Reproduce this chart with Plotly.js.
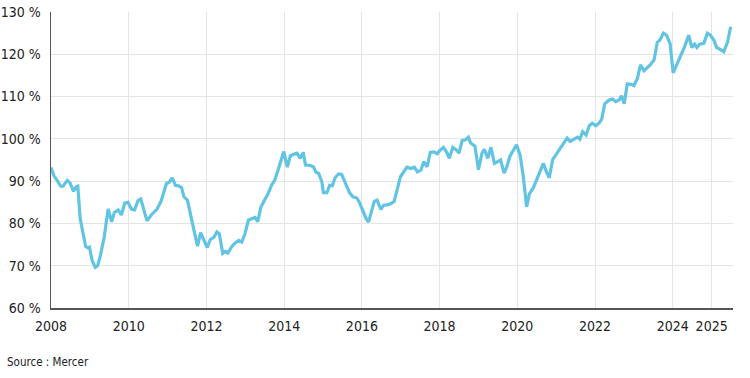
<!DOCTYPE html>
<html>
<head>
<meta charset="utf-8">
<script src="https://cdn.plot.ly/plotly-3.0.1.min.js"></script>
<style>
html,body{margin:0;padding:0;background:#fff;}
#chart{width:750px;height:378px;}
</style>
</head>
<body>
<div id="chart"></div>
<script>
// Decimal-year positions of the line vertices and the funding ratio (%)
const years = [
2008.00,2008.08,2008.17,2008.25,2008.31,2008.42,2008.49,2008.58,2008.64,2008.69,
2008.75,2008.82,2008.89,2008.95,2008.99,2009.06,2009.14,2009.20,2009.27,2009.37,
2009.47,2009.56,2009.63,2009.73,2009.81,2009.90,2009.98,2010.07,2010.15,2010.24,
2010.31,2010.39,2010.47,2010.58,2010.73,2010.83,2010.90,2010.97,2011.05,2011.12,
2011.20,2011.28,2011.36,2011.42,2011.51,2011.59,2011.68,2011.77,2011.85,2011.93,
2012.02,2012.10,2012.19,2012.27,2012.33,2012.42,2012.49,2012.55,2012.66,2012.74,
2012.83,2012.91,2012.99,2013.08,2013.18,2013.25,2013.32,2013.40,2013.49,2013.59,
2013.68,2013.76,2013.85,2013.93,2013.99,2014.08,2014.16,2014.26,2014.33,2014.41,
2014.49,2014.55,2014.67,2014.75,2014.82,2014.89,2014.97,2015.01,2015.10,2015.17,
2015.24,2015.31,2015.40,2015.48,2015.57,2015.68,2015.77,2015.87,2015.94,2016.03,
2016.10,2016.17,2016.26,2016.32,2016.39,2016.49,2016.56,2016.66,2016.75,2016.83,
2016.92,2016.99,2017.07,2017.16,2017.26,2017.35,2017.43,2017.52,2017.59,2017.68,
2017.76,2017.85,2017.94,2018.00,2018.10,2018.19,2018.25,2018.34,2018.43,2018.50,
2018.58,2018.67,2018.74,2018.80,2018.91,2019.00,2019.09,2019.15,2019.24,2019.32,
2019.41,2019.50,2019.57,2019.66,2019.73,2019.81,2019.90,2019.98,2020.07,2020.15,
2020.24,2020.31,2020.41,2020.50,2020.58,2020.67,2020.75,2020.82,2020.91,2020.99,
2021.09,2021.19,2021.28,2021.36,2021.46,2021.55,2021.61,2021.68,2021.77,2021.85,
2021.93,2022.02,2022.10,2022.17,2022.25,2022.36,2022.45,2022.53,2022.62,2022.68,
2022.75,2022.83,2022.92,2023.00,2023.09,2023.17,2023.26,2023.34,2023.43,2023.52,
2023.60,2023.67,2023.76,2023.84,2023.93,2024.01,2024.10,2024.19,2024.30,2024.41,
2024.49,2024.56,2024.62,2024.69,2024.80,2024.89,2024.97,2025.06,2025.13,2025.23,
2025.31,2025.41,2025.49
];
const ratio = [
93.2,91.2,90.0,88.8,88.8,90.2,89.6,87.6,88.6,88.8,
81.2,78.0,74.6,74.2,74.4,71.2,69.6,70.0,72.4,76.8,
83.4,80.4,82.6,83.2,82.0,84.8,85.0,83.4,83.2,85.4,
85.8,83.2,80.6,82.0,83.4,85.2,87.4,89.4,89.8,90.8,
89.0,88.9,88.5,86.3,85.5,82.0,78.4,74.6,77.8,76.0,
74.3,76.2,76.7,78.0,77.6,72.9,73.4,73.0,74.6,75.4,
76.0,75.6,77.5,80.8,81.2,81.4,80.4,83.8,85.4,87.1,
89.1,90.3,92.8,95.2,97.0,93.3,96.0,96.4,96.6,95.4,
96.8,93.8,93.7,93.4,92.1,91.8,89.8,87.3,87.3,89.0,
88.9,90.8,91.7,91.6,89.8,87.3,86.3,86.0,84.9,82.7,
81.3,80.3,83.1,85.2,85.5,83.3,84.3,84.4,84.7,85.2,
88.4,91.0,92.1,93.3,93.0,93.3,92.2,92.6,94.6,93.4,
96.8,96.9,96.5,97.2,98.0,96.7,95.4,98.0,97.4,96.6,
99.6,99.8,100.4,99.0,98.3,92.7,96.6,97.5,95.4,98.0,
94.2,94.6,95.0,91.9,93.4,95.9,97.2,98.6,96.2,91.4,
83.9,87.0,88.4,90.3,92.4,94.2,92.2,90.8,95.1,96.2,
97.5,98.8,100.2,99.4,99.9,100.4,99.9,101.7,100.9,103.1,
103.7,103.1,103.7,104.6,108.3,109.2,109.4,108.8,109.2,110.2,
108.3,113.0,112.9,112.6,114.3,117.5,116.1,116.7,117.6,118.7,
122.8,123.4,125.0,124.5,122.6,115.6,117.4,119.4,121.7,124.5,
121.6,122.4,121.6,122.4,122.6,125.0,124.5,123.3,121.6,121.1,
120.6,122.9,126.5
];
const xTickVals = [2008,2010,2012,2014,2016,2018,2020,2022,2024,2025];
const xTickText = ["2008","2010","2012","2014","2016","2018","2020","2022","2024","2025"];
const yTickVals = [60,70,80,90,100,110,120,130];
const yTickText = ["60 %","70 %","80 %","90 %","100 %","110 %","120 %","130 %"];
const sourceText = "Source : Mercer";

const FONT = "'Liberation Sans Narrow','DejaVu Sans Condensed','Roboto',sans-serif";

Plotly.newPlot('chart', [{
  x: years, y: ratio, type: 'scatter', mode: 'lines',
  line: {color: '#62c4e3', width: 3.2, shape: 'linear'},
  hoverinfo: 'skip'
}], {
  width: 750, height: 378,
  margin: {l: 51, r: 17, t: 12, b: 70},
  paper_bgcolor: '#fff', plot_bgcolor: '#fff',
  showlegend: false,
  font: {family: FONT, color: '#222', size: 14},
  xaxis: {
    range: [2008, 2025.55], tickmode: 'array', tickvals: xTickVals, ticktext: xTickText,
    showgrid: true, gridcolor: '#e4e4e4', gridwidth: 1,
    zeroline: false, showline: true, linecolor: '#555', linewidth: 1.5,
    ticks: '', ticklabelstandoff: 5,
    tickfont: {family: FONT, size: 14, color: '#222'}, fixedrange: true
  },
  yaxis: {
    range: [60, 130], tickmode: 'array', tickvals: yTickVals, ticktext: yTickText,
    showgrid: true, gridcolor: '#e4e4e4', gridwidth: 1,
    zeroline: false, showline: true, linecolor: '#555', linewidth: 1.5,
    ticks: '', ticklabelstandoff: 6,
    tickfont: {family: FONT, size: 14, color: '#222'}, fixedrange: true
  },
  annotations: [{
    text: sourceText, xref: 'paper', yref: 'paper',
    x: -0.068, y: -0.183, xanchor: 'left', yanchor: 'middle',
    showarrow: false, font: {family: FONT, size: 11.5, color: '#222'}
  }]
}, {staticPlot: true});
</script>
</body>
</html>
